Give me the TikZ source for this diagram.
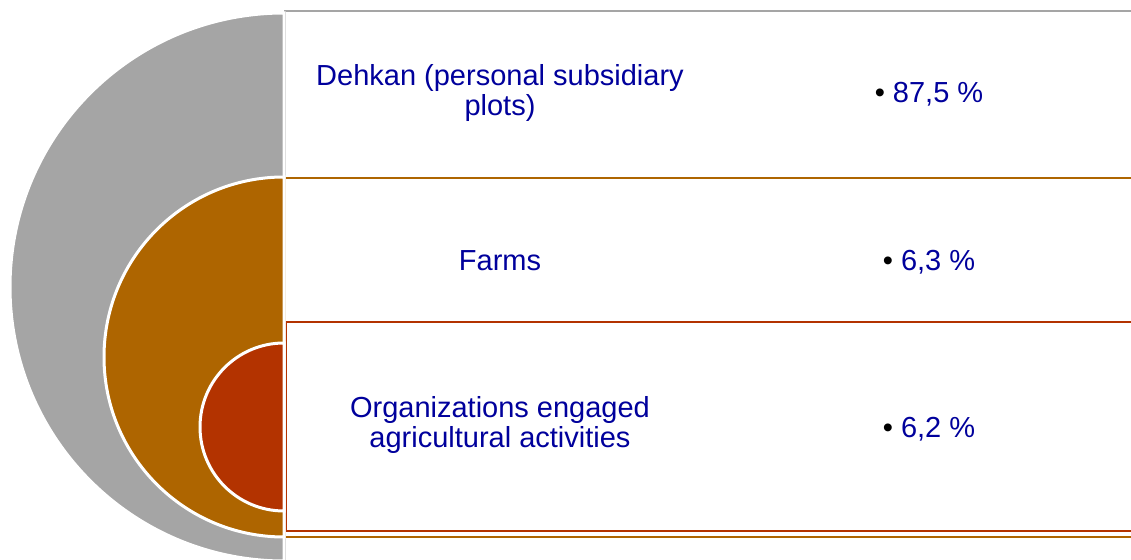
\documentclass[tikz,border=0pt]{standalone}
\usepackage{fontspec}
\setmainfont{Liberation Sans}
\definecolor{ringgray}{HTML}{A5A5A5}
\definecolor{ringbrown}{HTML}{AE6500}
\definecolor{ringred}{HTML}{B33300}
\definecolor{labelblue}{HTML}{00009C}

\begin{document}
\begin{tikzpicture}[x=1pt, y=1pt, every node/.style = {font=\fontsize{29}{30}\selectfont, text=labelblue, inner sep=0pt, align=center}, rowbox/.style = {fill=white, line width=2.5pt}, halfdisc/.style = {draw=white, line width=3pt}]
  \useasboundingbox (0,0) rectangle (1131,559);
  % rows
  \draw[rowbox, draw=ringgray] (285,548) rectangle (1150,-20);
  \draw[rowbox, draw=ringbrown] (285,381) rectangle (1150,22);
  \draw[rowbox, draw=ringred] (286,237) rectangle (1150,28);
  % half discs
  \path[halfdisc, fill=ringgray] (284,546) arc[start angle=90, end angle=270, radius=274] -- cycle;
  \path[halfdisc, fill=ringbrown] (284,382) arc[start angle=90, end angle=270, radius=180] -- cycle;
  \path[halfdisc, fill=ringred] (284,216) arc[start angle=90, end angle=270, radius=84] -- cycle;
  % labels
  \node (dehkan) at (500,465.5) {Dehkan (personal subsidiary\\plots)};
  \node[anchor=base] (farms) at (500,288.5) {Farms};
  \node (orgs) at (500,134) {Organizations engaged\\agricultural activities};
  \node[anchor=base] (dehkanpct) at (929,456) {\textcolor{black}{•}\ 87,5 \%};
  \node[anchor=base] (farmspct) at (929,288.5) {\textcolor{black}{•}\ 6,3 \%};
  \node[anchor=base] (orgspct) at (929,121.5) {\textcolor{black}{•}\ 6,2 \%};
\end{tikzpicture}
\end{document}
